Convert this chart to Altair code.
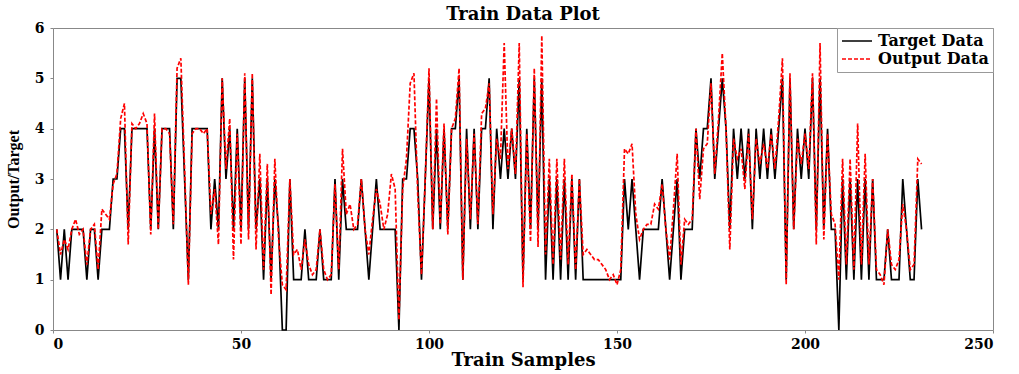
import altair as alt
import pandas as pd

target = [2, 1, 2, 1, 2, 2, 2, 2, 1, 2, 2, 1, 2, 2, 2, 3, 3, 4, 4, 2,
          4, 4, 4, 4, 4, 2, 4, 2, 4, 4, 4, 2, 5, 5, 3, 1, 4, 4, 4, 4,
          4, 2, 3, 2, 5, 3, 4, 2, 4, 2, 5, 2, 5, 2, 3, 1, 3, 1, 3, 2,
          0, 0, 3, 1, 1, 1, 2, 1, 1, 1, 2, 1, 1, 1, 3, 1, 3, 2, 2, 2,
          2, 3, 2, 1, 2, 3, 2, 2, 2, 2, 2, 0, 3, 3, 4, 4, 3, 1, 3, 5,
          2, 4, 2, 4, 2, 4, 4, 5, 1, 4, 2, 4, 2, 4, 4, 5, 2, 4, 3, 4,
          3, 4, 3, 5, 1, 4, 2, 5, 2, 5, 1, 3, 1, 3, 1, 3, 1, 3, 1, 3,
          1, 1, 1, 1, 1, 1, 1, 1, 1, 1, 1, 3, 2, 3, 2, 1, 2, 2, 2, 2,
          2, 3, 2, 1, 2, 3, 1, 2, 2, 2, 4, 3, 4, 4, 5, 3, 4, 5, 4, 2,
          4, 3, 4, 3, 4, 2, 4, 3, 4, 3, 4, 3, 4, 5, 1, 5, 2, 4, 3, 4,
          3, 5, 2, 5, 2, 4, 2, 2, 0, 3, 1, 3, 1, 3, 1, 3, 1, 3, 1, 1,
          1, 2, 1, 1, 1, 3, 2, 1, 1, 3, 2]

output = [2.0, 1.5, 1.8, 1.6, 2.0, 2.2, 1.9, 2.0, 1.3, 2.0, 2.1, 1.2, 2.4, 2.3, 2.2, 2.9, 3.1, 4.2, 4.5, 1.7,
          4.1, 4.0, 4.1, 4.3, 4.1, 1.9, 4.3, 2.0, 4.0, 4.0, 3.9, 2.1, 5.2, 5.4, 3.2, 0.9, 3.9, 4.0, 4.0, 3.9,
          4.0, 2.3, 2.8, 1.7, 5.0, 3.2, 4.2, 1.4, 3.9, 1.7, 5.1, 1.8, 5.1, 1.6, 3.5, 1.2, 3.3, 0.7, 3.4, 1.8,
          0.9, 0.8, 3.0, 1.5, 1.6, 1.2, 1.8, 1.3, 1.1, 1.2, 2.0, 1.2, 1.0, 1.1, 2.9, 1.2, 3.6, 2.3, 2.5, 2.0,
          2.1, 3.0, 2.0, 1.5, 2.2, 2.8, 2.5, 2.0, 2.3, 3.1, 2.8, 0.2, 2.8, 3.4, 4.9, 5.1, 2.7, 1.1, 3.0, 5.2,
          2.0, 4.6, 2.1, 4.1, 1.9, 4.0, 4.2, 5.2, 1.0, 3.8, 2.2, 3.9, 2.1, 4.3, 4.4, 4.9, 2.3, 3.8, 3.4, 5.7,
          3.2, 4.0, 3.1, 5.7, 0.85, 3.9, 1.75, 5.2, 1.65, 5.85, 1.5, 3.4, 1.3, 3.4, 1.4, 3.4, 1.3, 3.1, 1.2, 3.0,
          1.5, 1.6, 1.5, 1.4, 1.4, 1.3, 1.2, 1.0, 1.1, 0.9, 1.2, 3.6, 3.5, 3.7, 2.3, 1.8, 2.0, 2.1, 2.1, 2.5,
          2.4, 2.9, 2.0, 1.4, 2.4, 3.5, 1.3, 2.2, 2.1, 2.2, 4.0, 2.6, 3.6, 3.7, 4.9, 3.1, 4.2, 5.5, 4.0, 1.6,
          3.8, 3.4, 3.6, 2.8, 3.9, 2.2, 3.8, 3.3, 3.7, 3.2, 3.9, 3.2, 4.2, 5.4, 0.9, 5.1, 2.0, 3.8, 3.3, 3.9,
          3.2, 5.1, 1.7, 5.7, 1.8, 3.9, 2.3, 2.1, 1.0, 3.4, 1.3, 3.4, 1.2, 4.1, 1.3, 3.5, 1.3, 3.0, 1.2, 1.1,
          0.9, 2.0, 1.3, 1.2, 1.4, 2.5, 2.0, 1.2, 1.3, 3.4, 3.3]

series_names = ["Target Data", "Output Data"]
series_colors = ["#000000", "#ff0000"]
series_dash = [[1, 0], [4, 2]]

n = len(target)
samples = list(range(1, n + 1))
df = pd.DataFrame({
    "Sample": samples + samples,
    "Value": target + output,
    "Series": [series_names[0]] * n + [series_names[1]] * n,
})

WIDE = "DejaVu Serif"
SERIF = "Liberation Serif"

legend = alt.Legend(
    title=None, orient="top-right", offset=0, padding=4,
    strokeColor="#999999", fillColor="white",
    labelFont=WIDE, labelFontSize=16, labelFontWeight="bold", labelColor="black",
    symbolType="stroke", symbolSize=900, symbolStrokeWidth=1.6,
    rowPadding=0, labelOffset=5, clipHeight=18,
)

chart = alt.Chart(df).mark_line(strokeWidth=1.7).encode(
    x=alt.X("Sample:Q", scale=alt.Scale(domain=[0, 250], nice=False),
            axis=alt.Axis(values=[0, 50, 100, 150, 200, 250], title="Train Samples",
                          titleFont=WIDE, titleFontSize=18, titlePadding=0, labelPadding=4)),
    y=alt.Y("Value:Q", scale=alt.Scale(domain=[0, 6], nice=False),
            axis=alt.Axis(values=[0, 1, 2, 3, 4, 5, 6], title="Output/Target",
                          titleFont=SERIF, titleFontSize=16, titlePadding=13, labelPadding=6)),
    color=alt.Color("Series:N", scale=alt.Scale(domain=series_names, range=series_colors),
                    legend=legend, sort=series_names),
    strokeDash=alt.StrokeDash("Series:N", scale=alt.Scale(domain=series_names, range=series_dash),
                              legend=legend, sort=series_names),
    order=alt.Order("Sample:Q"),
).properties(
    width=940, height=302,
    title=alt.TitleParams("Train Data Plot", font=WIDE, fontSize=18, fontWeight="bold",
                          color="black", offset=2, dy=5),
    autosize=alt.AutoSizeParams(type="none"),
    padding={"left": 53, "top": 28, "right": 26, "bottom": 44},
).configure_view(
    stroke="#888888", strokeWidth=1
).configure_axis(
    labelFont=WIDE, labelFontSize=14, labelFontWeight="bold", labelColor="black",
    titleFontWeight="bold", titleColor="black",
    domain=False, grid=False, ticks=True, tickSize=3, tickColor="#888888",
)

chart.save("out.html", embed_options={"renderer": "svg", "actions": False})
